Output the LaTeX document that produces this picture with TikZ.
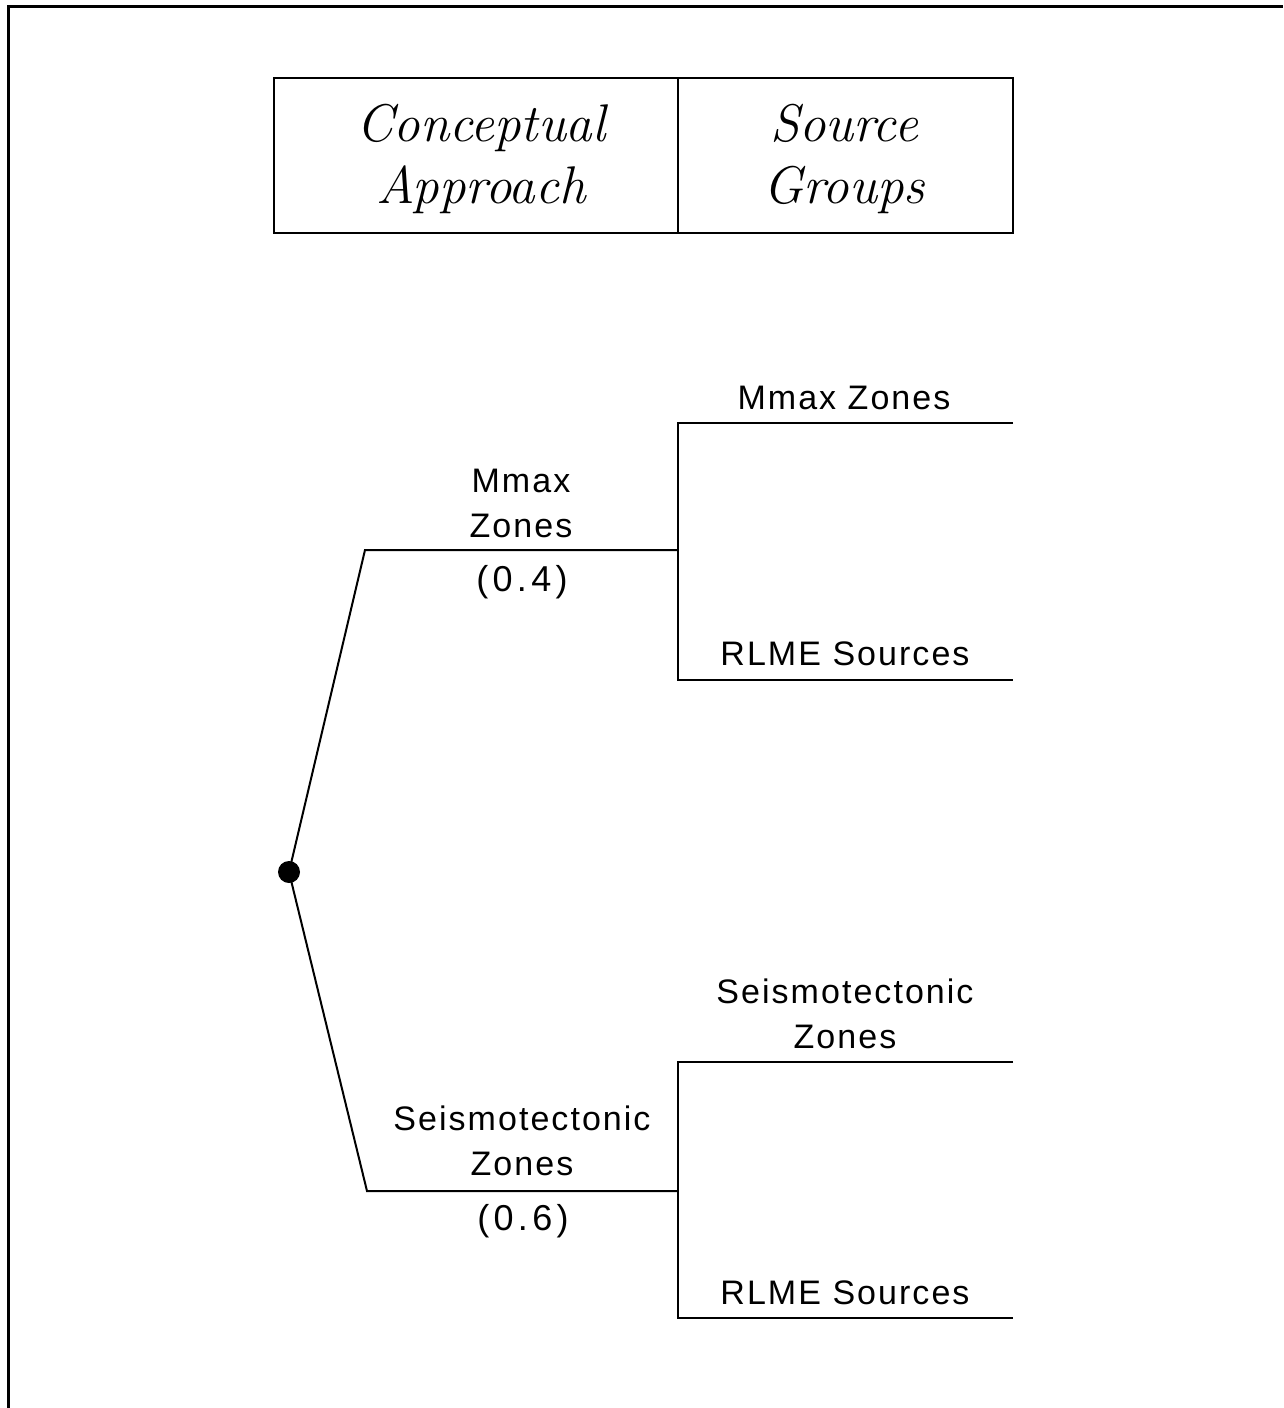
\documentclass[tikz,border=0pt]{standalone}
\usepackage{fontspec}
\newfontfamily\lblfont[LetterSpace=6]{Liberation Sans}
\newfontfamily\wtfont[LetterSpace=12]{Liberation Sans}
\begin{document}
\begin{tikzpicture}[x=1pt,y=-1pt,
  branch/.style={line width=2pt, line join=miter},
  lbl/.style={font=\lblfont\fontsize{34}{45}\selectfont, align=center, inner sep=0pt},
  weight/.style={font=\wtfont\fontsize{36}{45}\selectfont, align=center, inner sep=0pt},
  head/.style={font=\itshape\fontsize{53}{62}\selectfont, align=center, inner sep=0pt}]
\useasboundingbox (0,0) rectangle (1283,1408);
\fill[white] (0,0) rectangle (1283,1408);
% page frame
\draw[line width=3pt] (8,1408) -- (8,6) -- (1283,6);

% header table
\draw[line width=2.4pt] (274,78) rectangle (1013,233);
\coordinate (hdtop) at (678,78);
\coordinate (hdbot) at (678,233);
\draw[line width=2pt] (hdtop) -- (hdbot);
\node[head] (hleft) at (481,159) {Conceptual\\Approach};
\node[head] (hright) at (844,159) {Source\\Groups};

% root
\node[circle, fill, inner sep=0pt, minimum size=22pt] (root) at (289,872) {};

% upper branch
\coordinate (u1) at (365,550);
\coordinate (u2) at (678,550);
\coordinate (ut) at (678,423);
\coordinate (ub) at (678,680);
\coordinate (ute) at (1013,423);
\coordinate (ube) at (1013,680);
\draw[branch] (root.center) -- (u1) -- (u2);
\draw[branch] (ute) -- (ut) -- (ub) -- (ube);
\node[lbl] (ulab) at (521,503) {Mmax\\Zones};
\node[weight] (uw) at (522,582) {(0.4)};
\node[lbl] (utlab) at (844,398) {Mmax Zones};
\node[lbl] (ublab) at (845,654) {RLME Sources};

% lower branch
\coordinate (l1) at (367,1191);
\coordinate (l2) at (678,1191);
\coordinate (lt) at (678,1062);
\coordinate (lb) at (678,1318);
\coordinate (lte) at (1013,1062);
\coordinate (lbe) at (1013,1318);
\draw[branch] (root.center) -- (l1) -- (l2);
\draw[branch] (lte) -- (lt) -- (lb) -- (lbe);
\node[lbl] (llab) at (522,1141) {Seismotectonic\\Zones};
\node[weight] (lw) at (523,1221) {(0.6)};
\node[lbl] (ltlab) at (845,1014) {Seismotectonic\\Zones};
\node[lbl] (lblab) at (845,1293) {RLME Sources};
\end{tikzpicture}
\end{document}
